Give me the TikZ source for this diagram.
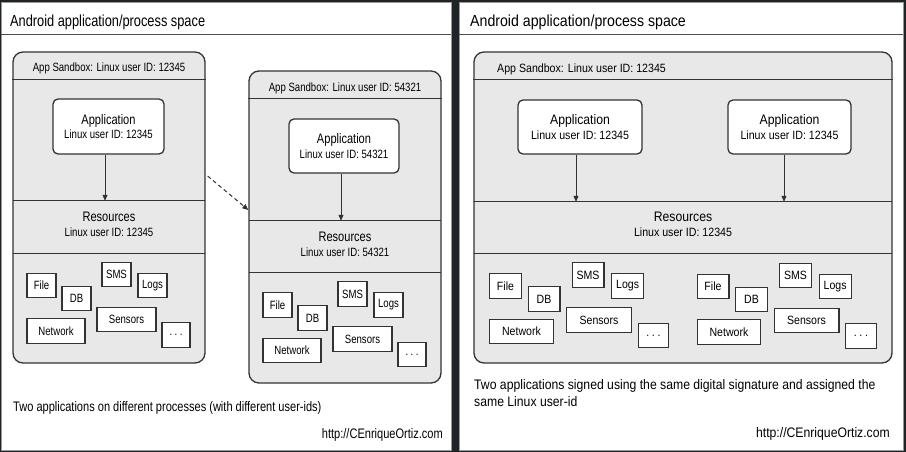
\documentclass[tikz,border=0pt]{standalone}
\usepackage{fontspec}
\setmainfont{Liberation Sans}
\newfontfamily\lpfont{Liberation Sans}[FakeStretch=0.8]
\newfontfamily\rpfont{Liberation Sans}[FakeStretch=0.885]
\usetikzlibrary{positioning}
\usetikzlibrary{arrows.meta}
\definecolor{bgdark}{HTML}{1F2427}
\definecolor{boxfill}{HTML}{E8E8E8}
\definecolor{linegray}{HTML}{333333}
\newcommand{\bigtxt}{\fontsize{13.8}{14.7}\selectfont}

\tikzset{
    panel/.style={draw=black!40, fill=white, line width=0.8pt, inner sep=0pt},
    sandbox/.style={draw=linegray, fill=boxfill, line width=1.3pt, rounded corners=10pt, inner sep=0pt},
    appbox/.style={draw=linegray, fill=white, line width=1.3pt, rounded corners=5pt, align=center, inner sep=0pt},
    region/.style={inner sep=0pt},
    res/.style={draw=linegray, fill=white, line width=1.1pt, minimum height=24.5pt, inner sep=0pt,
        font=\lpfont\fontsize{12}{14}\selectfont},
    sep/.style={draw=linegray, line width=1.3pt},
    conn/.style={draw=linegray, line width=1pt},
    ltxt/.style={font=\lpfont\fontsize{12}{14.7}\selectfont, align=center},
    rtxt/.style={font=\rpfont\fontsize{12}{14.7}\selectfont, align=center},
    lcap/.style={font=\lpfont\fontsize{13.8}{17.4}\selectfont, inner sep=0pt},
    rcap/.style={font=\rpfont\fontsize{13.8}{17.4}\selectfont, inner sep=0pt},
}

\begin{document}
\begin{tikzpicture}[x=1pt, y=-1pt, >={Triangle[length=6pt,width=5pt]}]
    \useasboundingbox (0,0) rectangle (906,452);
    \fill [bgdark] (0,0) rectangle (906,452);

    % left panel: two processes
    \path (226,226) node [panel, minimum width=450, minimum height=448] (pl) {};
    \draw [sep, draw=black!70, line width=0.8pt] ([yshift=-33pt]pl.north west) -- ([yshift=-33pt]pl.north east);
    \path (10,27) node [anchor=base west, inner sep=0pt, font=\lpfont\fontsize{16}{19}\selectfont] (tl) {Android application/process space};

    \path (109,207.5) node [sandbox, minimum width=192, minimum height=311] (sb1) {};
    \path (109,71.7) node [ltxt, anchor=base] (hd1) {App Sandbox: Linux user ID: 12345};
    \draw [sep] ([yshift=-28.5pt]sb1.north west) -- ([yshift=-28.5pt]sb1.north east);
    \path (108.5,126.5) node [appbox, ltxt, minimum width=111, minimum height=55] (ap1) {{\bigtxt Application}\\Linux user ID: 12345};
    \path (109,227) node [region, minimum width=192, minimum height=52] (rs1) {};
    \draw [sep] (rs1.north west) -- (rs1.north east) (rs1.south west) -- (rs1.south east);
    \path (109,224.4) node [ltxt] (rl1) {{\bigtxt Resources}\\Linux user ID: 12345};
    \draw [conn, ->] ([xshift=-3.5pt]ap1.south) -- ([xshift=-3.5pt]ap1.south |- rs1.north);

    \path (345,227) node [sandbox, minimum width=192, minimum height=312] (sb2) {};
    \path (345,91.5) node [ltxt, anchor=base] (hd2) {App Sandbox: Linux user ID: 54321};
    \draw [sep] ([yshift=-28.5pt]sb2.north west) -- ([yshift=-28.5pt]sb2.north east);
    \path (344,146) node [appbox, ltxt, minimum width=110, minimum height=54] (ap2) {{\bigtxt Application}\\Linux user ID: 54321};
    \path (345,246.5) node [region, minimum width=192, minimum height=51] (rs2) {};
    \draw [sep] (rs2.north west) -- (rs2.north east) (rs2.south west) -- (rs2.south east);
    \path (345,244) node [ltxt] (rl2) {{\bigtxt Resources}\\Linux user ID: 54321};
    \draw [conn, ->] ([xshift=-3pt]ap2.south) -- ([xshift=-3pt]ap2.south |- rs2.north);

    \draw [conn, ->, dash pattern=on 4pt off 3pt] ([shift={(2,-31.5)}]sb1.east) -- ([shift={(0,-17)}]sb2.west);

    \path (13,411.5) node [lcap, anchor=base west] (cl) {Two applications on different processes (with different user-ids)};
    \path (443,438) node [lcap, anchor=base east] (ul) {http://CEnriqueOrtiz.com};

    % right panel: shared user id
    \path (681,226) node [panel, minimum width=444, minimum height=448] (pr) {};
    \draw [sep, draw=black!70, line width=0.8pt] ([yshift=-33pt]pr.north west) -- ([yshift=-33pt]pr.north east);
    \path (470,27) node [anchor=base west, inner sep=0pt, font=\rpfont\fontsize{16}{19}\selectfont] (tr) {Android application/process space};

    \path (683,207.5) node [sandbox, minimum width=418, minimum height=311] (sb3) {};
    \path (497,72.5) node [rtxt, anchor=base west, inner sep=0pt] (hd3) {App Sandbox: Linux user ID: 12345};
    \draw [sep] ([yshift=-28.5pt]sb3.north west) -- ([yshift=-28.5pt]sb3.north east);
    \path (580,127) node [appbox, rtxt, minimum width=124, minimum height=54] (ap3) {{\bigtxt Application}\\Linux user ID: 12345};
    \path (789.5,127) node [appbox, rtxt, minimum width=123, minimum height=54] (ap4) {{\bigtxt Application}\\Linux user ID: 12345};
    \path (683,227.5) node [region, minimum width=418, minimum height=51] (rs3) {};
    \draw [sep] (rs3.north west) -- (rs3.north east) (rs3.south west) -- (rs3.south east);
    \path (683,224.4) node [rtxt] (rl3) {{\bigtxt Resources}\\Linux user ID: 12345};
    \draw [conn, ->] ([xshift=-4pt]ap3.south) -- ([xshift=-4pt]ap3.south |- rs3.north);
    \draw [conn, ->] ([xshift=-5.5pt]ap4.south) -- ([xshift=-5.5pt]ap4.south |- rs3.north);

    \path (474,379) node [rcap, anchor=north west, align=left] (cr) {Two applications signed using the same digital signature and assigned the\\same Linux user-id};
    \path (890,437.5) node [rcap, anchor=base east] (ur) {http://CEnriqueOrtiz.com};

    % resources in each sandbox
    \foreach \ox/\oy/\s [count=\g] in {41.5/285.5/1, 277.5/305/1, 505.5/286/1.1, 713/286.5/1.1} {
        \begin{scope}[shift={(\ox,\oy)}, xscale=\s, transform shape]
            \path (0,0) node [res, minimum width=29] (fi\g) {File};
            \path (35,13) node [res, minimum width=29] (db\g) {DB};
            \path (75,-11) node [res, minimum width=29] (sm\g) {SMS};
            \path (111,0) node [res, minimum width=29] (lg\g) {Logs};
            \path (85,34) node [res, minimum width=59] (se\g) {Sensors};
            \path (14.5,45.5) node [res, minimum width=58] (nw\g) {Network};
            \path (134.5,49.5) node [res, minimum width=28] (dt\g) {.\hspace{2.5pt}.\hspace{2.5pt}.};
        \end{scope}
    }
\end{tikzpicture}
\end{document}
